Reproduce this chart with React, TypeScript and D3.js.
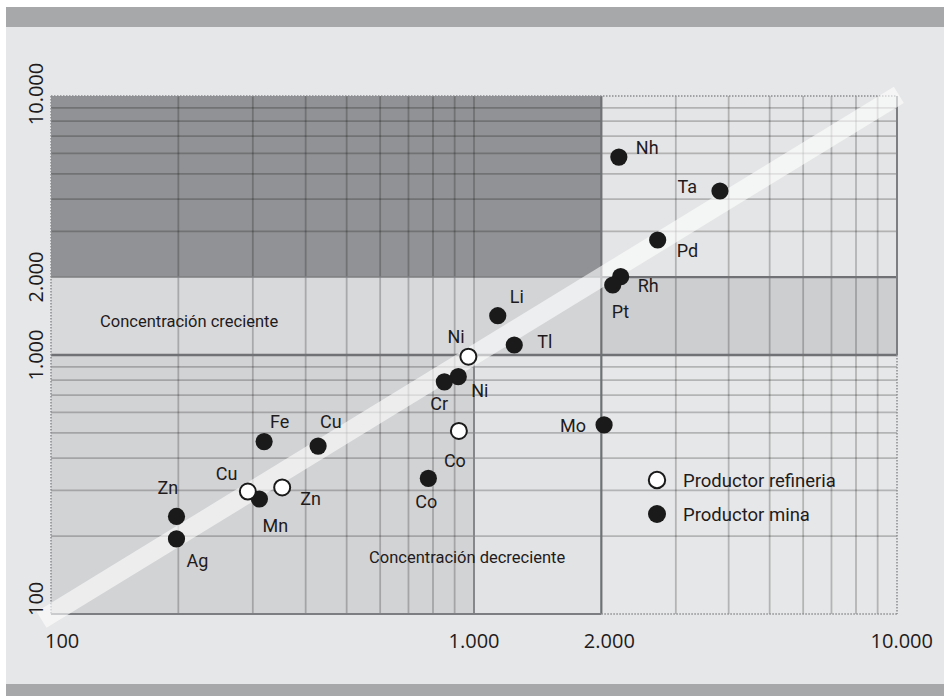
import React from "react";
import * as d3 from "d3";

// ---------- data ----------
const elements = ["Nh", "Ta", "Pd", "Rh", "Pt", "Li", "Tl", "Ni", "Cr", "Mo", "Co", "Cu", "Fe", "Mn", "Zn", "Ag", "Ni", "Co", "Cu", "Zn"];
const producerType = [
  "mina", "mina", "mina", "mina", "mina", "mina", "mina", "mina", "mina", "mina",
  "mina", "mina", "mina", "mina", "mina", "mina", "refineria", "refineria", "refineria", "refineria",
];
const xValues = [2200, 3815, 2718, 2222, 2128, 1138, 1245, 918, 851, 2030, 780, 428, 319, 311, 198, 198, 970, 921, 292, 352];
const yValues = [5810, 4297, 2780, 2006, 1863, 1418, 1093, 825, 788, 537, 334, 445, 463, 278, 238, 195, 985, 509, 297, 308];

const gridValues = [200, 300, 400, 500, 600, 700, 800, 900, 1000, 2000, 3000, 4000, 5000, 6000, 7000, 8000, 9000];
const tickValues = [100, 1000, 2000, 10000];
const tickLabels = ["100", "1.000", "2.000", "10.000"];
const legendLabels = ["Productor refineria", "Productor mina"];
const legendTypes = ["refineria", "mina"];
const zoneLabels = ["Concentración creciente", "Concentración decreciente"];

// label layout (dx, dy from point centre; text anchor)
const labelOffsets: [number, number, string][] = [
  [17, -3, "start"], [-23, 2, "end"], [19, 17, "start"], [17, 15, "start"], [-1, 33, "start"],
  [12, -13, "start"], [23, 3, "start"], [13, 20, "start"], [-14, 28, "start"], [-18, 7, "end"],
  [-13, 30, "start"], [2, -18, "start"], [6, -14, "start"], [3, 33, "start"], [-19, -22, "start"],
  [10, 28, "start"], [-21, -14, "start"], [-15, 36, "start"], [-32, -12, "start"], [18, 18, "start"],
];

const W = 944;
const H = 696;
const L = 51, R = 897, T = 96, B = 614;

export default function App() {
  const x = d3.scaleLog().domain([100, 10000]).range([L, R]);
  const y = d3.scaleLog().domain([100, 10000]).range([B, T]);

  const labelFont = "Roboto, 'DejaVu Sans', sans-serif";
  const axisFont = "'Open Sans', 'DejaVu Sans', sans-serif";
  const ink = "#1f1b1c";

  const rect = (x0: number, x1: number, y0: number, y1: number, fill: string, key: string) => (
    <rect key={key} x={x(x0)} y={y(y1)} width={x(x1) - x(x0)} height={y(y0) - y(y1)} fill={fill} />
  );

  const bandLine = d3.line<[number, number]>().x((d) => x(d[0])).y((d) => y(d[1]));
  const bandPath = bandLine([[95, 95], [10100, 10100]]) as string;

  return (
    <svg
      width={W}
      height={H}
      style={{ position: "absolute", left: 0, top: 0, display: "block" }}
      xmlns="http://www.w3.org/2000/svg"
    >
      <rect x={0} y={0} width={W} height={H} fill="#ffffff" />
      <rect x={6} y={7} width={W - 6} height={H - 7} fill="#e6e7e8" />
      <rect x={6} y={7} width={W - 6} height={20} fill="#a7a8aa" />
      <rect x={6} y={684} width={W - 6} height={12} fill="#a7a8aa" />

      {/* zones */}
      {rect(100, 2000, 2000, 10000, "#909295", "z1")}
      {rect(2000, 10000, 2000, 10000, "#e4e5e6", "z2")}
      {rect(100, 1000, 1000, 2000, "#d8d9db", "z3")}
      {rect(1000, 2000, 1000, 2000, "#d3d4d6", "z4")}
      {rect(2000, 10000, 1000, 2000, "#cdced0", "z5")}
      {rect(100, 1000, 100, 1000, "#d2d3d5", "z6")}
      {rect(1000, 2000, 100, 1000, "#e2e3e4", "z7")}
      {rect(2000, 10000, 100, 1000, "#e6e7e8", "z8")}

      {/* grid */}
      <g stroke="rgba(0,0,0,0.22)" strokeWidth={1.8}>
        {gridValues
          .filter((v) => v !== 1000 && v !== 2000)
          .map((v) => (
            <line key={"gx" + v} x1={x(v)} x2={x(v)} y1={T} y2={B} />
          ))}
        {gridValues
          .filter((v) => v !== 1000 && v !== 2000)
          .map((v) => (
            <line key={"gy" + v} x1={L} x2={R} y1={y(v)} y2={y(v)} />
          ))}
      </g>
      {/* zone boundaries */}
      <g stroke="#6f7174" fill="none">
        <line x1={L} x2={R} y1={y(1000)} y2={y(1000)} strokeWidth={2.6} />
        <line x1={x(2000)} x2={x(2000)} y1={T} y2={B} strokeWidth={2.2} />
        <line x1={x(2000)} x2={R} y1={y(2000)} y2={y(2000)} strokeWidth={2.2} />
        <line x1={L} x2={x(2000)} y1={y(2000)} y2={y(2000)} strokeWidth={1.5} stroke="#7c7e81" />
        <line x1={x(1000)} x2={x(1000)} y1={y(1000)} y2={B} strokeWidth={2} stroke="#85878a" />
        <line x1={x(1000)} x2={x(1000)} y1={T} y2={y(1000)} strokeWidth={1.8} stroke="rgba(0,0,0,0.22)" />
        <line x1={L} x2={x(2000)} y1={B} y2={B} strokeWidth={2} stroke="#7c7e81" />
        <line x1={R} x2={R} y1={T} y2={y(1000)} strokeWidth={2} stroke="#7c7e81" />
      </g>
      {/* dotted frame */}
      <g stroke="#8a8c8f" strokeWidth={1.5} strokeDasharray="1.5 1.5" fill="none">
        <line x1={L} x2={R} y1={T} y2={T} />
        <line x1={x(2000)} x2={R} y1={B} y2={B} />
        <line x1={R} x2={R} y1={y(1000)} y2={B} />
        <line x1={L} x2={L} y1={T} y2={B} />
      </g>

      {/* diagonal band */}
      <path d={bandPath} stroke="#ffffff" strokeOpacity={0.6} strokeWidth={19} fill="none" />

      {/* zone labels */}
      <text x={100} y={327} fontFamily={labelFont} fontSize={16.5} fill={ink}>
        {zoneLabels[0]}
      </text>
      <text x={369} y={563} fontFamily={labelFont} fontSize={16.5} fill={ink}>
        {zoneLabels[1]}
      </text>

      {/* points: mine first, refinery on top */}
      {["mina", "refineria"].map((t) =>
        elements.map((el, i) =>
          producerType[i] === t ? (
            <circle
              key={t + i}
              cx={x(xValues[i])}
              cy={y(yValues[i])}
              r={t === "mina" ? 8.6 : 8}
              fill={t === "mina" ? "#1a1a1a" : "#ffffff"}
              stroke="#1a1a1a"
              strokeWidth={t === "mina" ? 0 : 2}
            />
          ) : null
        )
      )}
      {elements.map((el, i) => (
        <text
          key={"l" + i}
          x={x(xValues[i]) + labelOffsets[i][0]}
          y={y(yValues[i]) + labelOffsets[i][1]}
          textAnchor={labelOffsets[i][2] as any}
          fontFamily={labelFont}
          fontSize={18}
          fill={ink}
        >
          {el}
        </text>
      ))}

      {/* legend */}
      {legendLabels.map((lab, i) => (
        <g key={"lg" + i} transform={`translate(657,${480 + i * 34})`}>
          <circle
            r={legendTypes[i] === "mina" ? 9 : 8.2}
            fill={legendTypes[i] === "mina" ? "#1a1a1a" : "#ffffff"}
            stroke="#1a1a1a"
            strokeWidth={legendTypes[i] === "mina" ? 0 : 2}
          />
          <text x={26} y={7} fontFamily={labelFont} fontSize={18.5} fill={ink}>
            {lab}
          </text>
        </g>
      ))}

      {/* x axis labels */}
      {tickValues.map((v, i) => {
        const anchor = i === 0 ? "start" : i === tickValues.length - 1 ? "end" : "middle";
        const dx = i === 0 ? -6 : i === tickValues.length - 1 ? 36 : v === 2000 ? 8 : 0;
        return (
          <text
            key={"xt" + v}
            x={x(v) + dx}
            y={648}
            textAnchor={anchor}
            fontFamily={axisFont}
            fontSize={20}
            fill={ink}
          >
            {tickLabels[i]}
          </text>
        );
      })}
      {/* y axis labels */}
      {tickValues.map((v, i) => {
        const anchor = i === 0 ? "start" : "middle";
        const dy = i === 0 ? 2 : i === tickValues.length - 1 ? -2 : 0;
        const yy = y(v) + dy;
        return (
          <text
            key={"yt" + v}
            transform={`translate(43,${yy}) rotate(-90)`}
            textAnchor={anchor}
            fontFamily={axisFont}
            fontSize={20}
            fill={ink}
          >
            {tickLabels[i]}
          </text>
        );
      })}
    </svg>
  );
}
